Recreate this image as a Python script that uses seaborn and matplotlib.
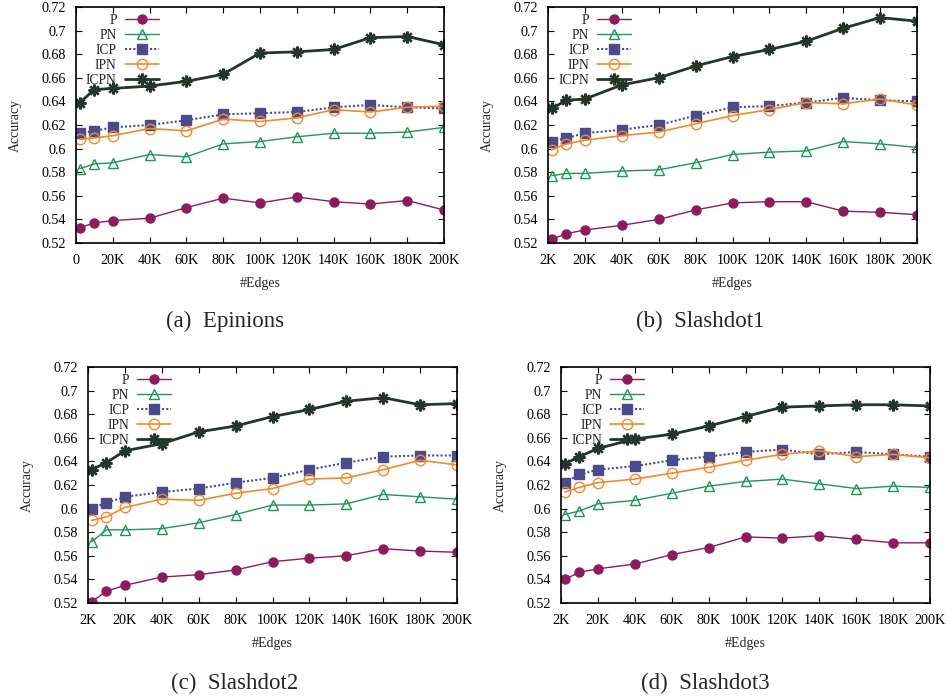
import matplotlib
matplotlib.use("Agg")
import matplotlib.pyplot as plt
import seaborn as sns
import pandas as pd

sns.set_theme(style="ticks")
plt.rcParams['font.family'] = ['Liberation Serif', 'DejaVu Serif']
plt.rcParams['xtick.direction'] = 'in'
plt.rcParams['ytick.direction'] = 'in'

edges = [2000, 10000, 20000, 40000, 60000, 80000, 100000, 120000, 140000, 160000, 180000, 200000]
series_names = ["P", "PN", "ICP", "IPN", "ICPN"]

# (a) Epinions
a_P    = [0.533, 0.537, 0.539, 0.541, 0.550, 0.558, 0.554, 0.559, 0.555, 0.553, 0.556, 0.548]
a_PN   = [0.583, 0.587, 0.588, 0.595, 0.593, 0.604, 0.606, 0.610, 0.613, 0.613, 0.614, 0.618]
a_ICP  = [0.613, 0.615, 0.618, 0.620, 0.624, 0.629, 0.630, 0.631, 0.635, 0.637, 0.635, 0.634]
a_IPN  = [0.608, 0.609, 0.611, 0.617, 0.615, 0.625, 0.623, 0.626, 0.633, 0.631, 0.635, 0.636]
a_ICPN = [0.639, 0.650, 0.651, 0.653, 0.657, 0.663, 0.681, 0.682, 0.684, 0.694, 0.695, 0.688]

# (b) Slashdot1
b_P    = [0.523, 0.528, 0.531, 0.535, 0.540, 0.548, 0.554, 0.555, 0.555, 0.547, 0.546, 0.544]
b_PN   = [0.577, 0.579, 0.579, 0.581, 0.582, 0.588, 0.595, 0.597, 0.598, 0.606, 0.604, 0.601]
b_ICP  = [0.606, 0.609, 0.613, 0.616, 0.620, 0.628, 0.635, 0.636, 0.639, 0.643, 0.641, 0.640]
b_IPN  = [0.599, 0.604, 0.607, 0.611, 0.614, 0.621, 0.628, 0.633, 0.639, 0.638, 0.642, 0.637]
b_ICPN = [0.634, 0.641, 0.642, 0.654, 0.660, 0.670, 0.678, 0.684, 0.691, 0.702, 0.711, 0.708]

# (c) Slashdot2
c_P    = [0.521, 0.530, 0.535, 0.542, 0.544, 0.548, 0.555, 0.558, 0.560, 0.566, 0.564, 0.563]
c_PN   = [0.572, 0.582, 0.582, 0.583, 0.588, 0.595, 0.603, 0.603, 0.604, 0.612, 0.610, 0.608]
c_ICP  = [0.600, 0.605, 0.610, 0.614, 0.617, 0.622, 0.626, 0.633, 0.639, 0.644, 0.645, 0.645]
c_IPN  = [0.590, 0.593, 0.601, 0.608, 0.607, 0.613, 0.617, 0.625, 0.626, 0.633, 0.641, 0.637]
c_ICPN = [0.633, 0.639, 0.649, 0.655, 0.665, 0.670, 0.678, 0.684, 0.691, 0.694, 0.688, 0.689]

# (d) Slashdot3
d_P    = [0.540, 0.546, 0.549, 0.553, 0.561, 0.567, 0.576, 0.575, 0.577, 0.574, 0.571, 0.571]
d_PN   = [0.595, 0.598, 0.604, 0.607, 0.613, 0.619, 0.623, 0.625, 0.621, 0.617, 0.619, 0.618]
d_ICP  = [0.622, 0.629, 0.633, 0.636, 0.641, 0.644, 0.648, 0.650, 0.646, 0.648, 0.646, 0.644]
d_IPN  = [0.614, 0.618, 0.622, 0.625, 0.630, 0.635, 0.641, 0.646, 0.649, 0.644, 0.646, 0.643]
d_ICPN = [0.638, 0.644, 0.651, 0.659, 0.663, 0.670, 0.678, 0.686, 0.687, 0.688, 0.688, 0.687]

xtick_vals = [0, 20000, 40000, 60000, 80000, 100000, 120000, 140000, 160000, 180000, 200000]
xtick_labels_a = ["0", "20K", "40K", "60K", "80K", "100K", "120K", "140K", "160K", "180K", "200K"]
xtick_labels_b = ["2K", "20K", "40K", "60K", "80K", "100K", "120K", "140K", "160K", "180K", "200K"]
ytick_vals = [0.52, 0.54, 0.56, 0.58, 0.6, 0.62, 0.64, 0.66, 0.68, 0.7, 0.72]
ytick_labels = ["0.52", "0.54", "0.56", "0.58", "0.6", "0.62", "0.64", "0.66", "0.68", "0.7", "0.72"]

captions = ["(a)  Epinions", "(b)  Slashdot1", "(c)  Slashdot2", "(d)  Slashdot3"]

styles = {
    "P":    dict(color="#8c1c5c", marker="o", ls="-", lw=1.0, ms=6.5, mfc="#8c1c5c", mew=1.0),
    "PN":   dict(color="#1e9656", marker="^", ls="-", lw=1.0, ms=6.5, mfc="none", mew=1.0),
    "ICP":  dict(color="#4b4b8c", marker="s", ls=(0, (1, 1)), lw=1.5, ms=6.5, mfc="#4b4b8c", mew=1.0),
    "IPN":  dict(color="#f4892a", marker="o", ls="-", lw=1.2, ms=7.5, mfc="none", mew=1.0),
    "ICPN": dict(color="#24352a", marker=(8, 2, 0), ls="-", lw=2.0, ms=8.5, mfc="#24352a", mew=1.7),
}

panels = [
    (a_P, a_PN, a_ICP, a_IPN, a_ICPN),
    (b_P, b_PN, b_ICP, b_IPN, b_ICPN),
    (c_P, c_PN, c_ICP, c_IPN, c_ICPN),
    (d_P, d_PN, d_ICP, d_IPN, d_ICPN),
]

W, H = 948, 697
rects_px = [(76, 7, 368, 236), (548, 7, 369, 236), (88, 367, 369, 236), (561, 367, 369, 236)]
caption_pos = [(225, 321), (700, 321), (235, 683), (705, 683)]

fig = plt.figure(figsize=(9.48, 6.97), dpi=100)
fig.patch.set_facecolor("white")

for i, (vals, (x0, y0, w, h)) in enumerate(zip(panels, rects_px)):
    ax = fig.add_axes([x0 / W, 1 - (y0 + h) / H, w / W, h / H])
    ax.set_facecolor("white")
    for name, v in zip(series_names, vals):
        df = pd.DataFrame({"edges": edges, "acc": v})
        st = styles[name]
        sns.lineplot(data=df, x="edges", y="acc", ax=ax, color=st["color"],
                     marker=st["marker"], linestyle=st["ls"], linewidth=st["lw"],
                     markersize=st["ms"], markerfacecolor=st["mfc"],
                     markeredgecolor=st["color"], markeredgewidth=st["mew"],
                     label=name)
    ax.set_xlim(0, 200000)
    ax.set_ylim(0.52, 0.72)
    ax.set_xticks(xtick_vals)
    ax.set_xticklabels(xtick_labels_a if i == 0 else xtick_labels_b)
    ax.set_yticks(ytick_vals)
    ax.set_yticklabels(ytick_labels)
    ax.tick_params(axis="both", which="both", direction="in", top=True, right=True,
                   length=4, width=0.8, labelsize=10.2, colors="black")
    ax.tick_params(axis="x", pad=8)
    ax.tick_params(axis="y", pad=7)
    for sp in ax.spines.values():
        sp.set_visible(True)
        sp.set_color("black")
        sp.set_linewidth(1.2)
    ax.set_xlabel("#Edges", fontsize=10, labelpad=7)
    ax.set_ylabel("Accuracy", fontsize=10, labelpad=14)
    ax.grid(False)
    leg = ax.legend(loc="upper right", bbox_to_anchor=(0.233, 0.981), frameon=False,
                    markerfirst=False, fontsize=9.8, handlelength=2.5,
                    labelspacing=0.14, borderaxespad=0.0, handletextpad=0.6,
                    borderpad=0.2)
    cx, cy = caption_pos[i]
    fig.text(cx / W, 1 - cy / H, captions[i], ha="center", va="center", fontsize=16.5)

fig.savefig("out.png", dpi=100, facecolor="white")
